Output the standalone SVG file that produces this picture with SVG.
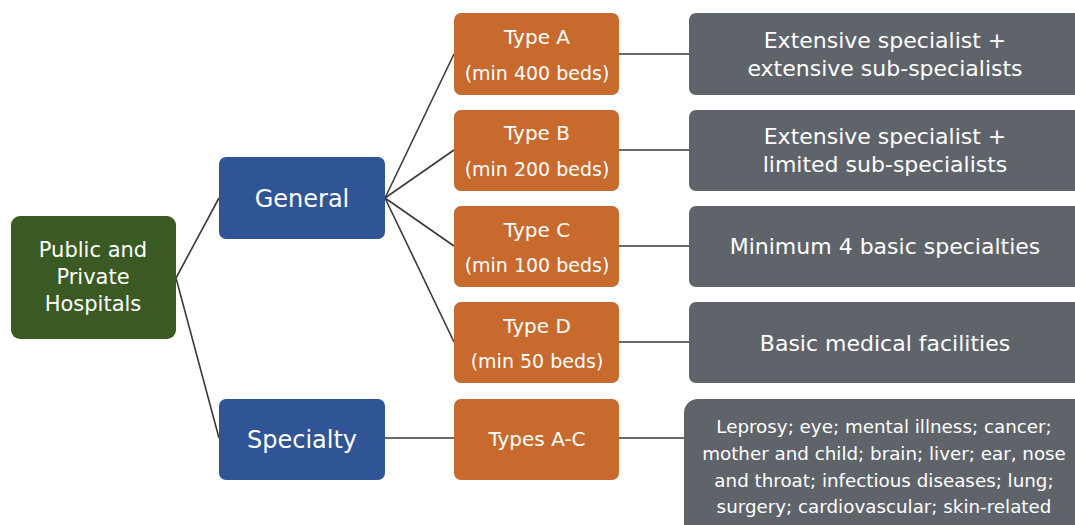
<svg xmlns="http://www.w3.org/2000/svg" width="1075" height="525" viewBox="0 0 1075 525">
<style>
text{font-family:"DejaVu Sans","Liberation Sans",Arial,sans-serif;fill:#fff;text-anchor:middle}
.g{fill:#3b5a23}.b{fill:#2f5597}.o{fill:#c86a2d}.d{fill:#5f646a}
.c{stroke:#3a3a3a;stroke-width:1.6;fill:none}
</style>
<rect width="1075" height="525" fill="#fff"/>
<g id="connectors">
<path class="c" d="M176 278L219 198M176 278L219 438"/>
<path class="c" d="M385 198L454 54M385 198L454 150M385 198L454 246M385 198L454 342"/>
<path class="c" d="M619 54H689M619 150H689M619 246H689M619 342H689"/>
<path class="c" d="M385 438H454M619 438H684"/>
</g>
<g id="root"><rect class="g" x="11" y="216" width="165" height="123" rx="9"/>
<text x="93" y="257" font-size="21">Public and</text><text x="93" y="284" font-size="21">Private</text><text x="93" y="311" font-size="21">Hospitals</text></g>
<g id="general"><rect class="b" x="219" y="157" width="166" height="82" rx="7"/><text x="302" y="207" font-size="24">General</text></g>
<g id="specialty"><rect class="b" x="219" y="399" width="166" height="81" rx="7"/><text x="302" y="448" font-size="24">Specialty</text></g>
<g id="typeA"><rect class="o" x="454" y="13" width="165" height="82" rx="7"/><text x="537" y="44" font-size="20">Type A</text><text x="537" y="80" font-size="19">(min 400 beds)</text></g>
<g id="typeB"><rect class="o" x="454" y="110" width="165" height="81" rx="7"/><text x="537" y="140" font-size="20">Type B</text><text x="537" y="176" font-size="19">(min 200 beds)</text></g>
<g id="typeC"><rect class="o" x="454" y="206" width="165" height="81" rx="7"/><text x="537" y="237" font-size="20">Type C</text><text x="537" y="272" font-size="19">(min 100 beds)</text></g>
<g id="typeD"><rect class="o" x="454" y="302" width="165" height="81" rx="7"/><text x="537" y="333" font-size="20">Type D</text><text x="537" y="368" font-size="19">(min 50 beds)</text></g>
<g id="typesAC"><rect class="o" x="454" y="399" width="165" height="81" rx="7"/><text x="537" y="446" font-size="20">Types A-C</text></g>
<g id="descA"><rect class="d" x="689" y="13" width="400" height="82" rx="7"/><text x="885" y="48" font-size="22">Extensive specialist +</text><text x="885" y="76" font-size="22">extensive sub-specialists</text></g>
<g id="descB"><rect class="d" x="689" y="110" width="400" height="81" rx="7"/><text x="885" y="144" font-size="22">Extensive specialist +</text><text x="885" y="172" font-size="22">limited sub-specialists</text></g>
<g id="descC"><rect class="d" x="689" y="206" width="400" height="81" rx="7"/><text x="885" y="254" font-size="22">Minimum 4 basic specialties</text></g>
<g id="descD"><rect class="d" x="689" y="302" width="400" height="81" rx="7"/><text x="885" y="351" font-size="22">Basic medical facilities</text></g>
<g id="descSpec"><rect class="d" x="684" y="399" width="410" height="140" rx="14"/>
<text x="884" y="433" font-size="18.3">Leprosy; eye; mental illness; cancer;</text>
<text x="884" y="460" font-size="18.3">mother and child; brain; liver; ear, nose</text>
<text x="884" y="487" font-size="18.3">and throat; infectious diseases; lung;</text>
<text x="884" y="513" font-size="18.3">surgery; cardiovascular; skin-related</text></g>
</svg>
